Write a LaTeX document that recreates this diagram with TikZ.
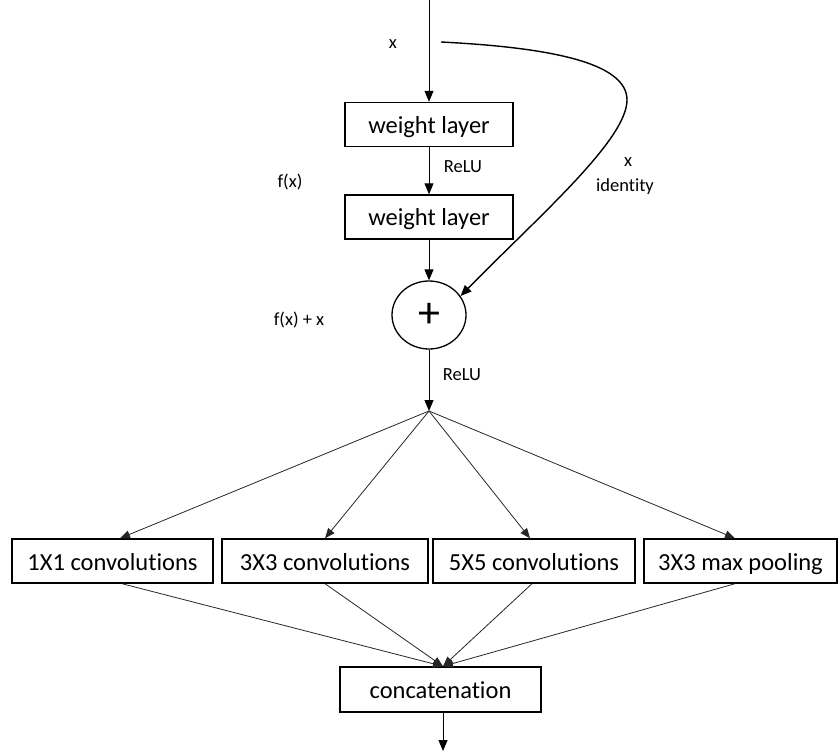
\documentclass[tikz,border=0pt]{standalone}
\usepackage{fontspec}
\setmainfont[Ligatures=NoCommon,RawFeature=-liga]{Carlito}
\usetikzlibrary{arrows.meta,shapes.geometric}
\begin{document}
\begin{tikzpicture}[x=1pt,y=-1pt,
  box/.style={draw,line width=1.4pt,minimum height=44pt,inner sep=0pt,text height=20pt,text depth=2pt,font=\fontsize{24.5}{28}\selectfont},
  lbl/.style={inner sep=0pt,font=\fontsize{18.5}{22}\selectfont},
  conn/.style={line width=1pt,-{Triangle[length=11pt,width=9pt]}},
  branch/.style={line width=0.8pt,black!85,-{Triangle[length=10pt,width=8pt]}}]
\useasboundingbox (0,0) rectangle (838,751);
% main column
\coordinate (in) at (429,0);
\node[box,minimum width=168pt] (wl1) at (429,124.5) {weight layer};
\node[box,minimum width=168pt] (wl2) at (429,217) {weight layer};
\node[ellipse,draw,line width=1.3pt,minimum width=74pt,minimum height=68pt,inner sep=0pt,font=\fontsize{44}{44}\selectfont] (plus) at (429,315) {+};
\coordinate (split) at (429,411);
% labels
\node[lbl] (lx) at (393,44) {x};
\node[lbl] (relu1) at (463,167) {ReLU};
\node[lbl] (fx) at (290,182) {f(x)};
\node[lbl] (ix) at (628,162) {x};
\node[lbl] (ident) at (625,187) {identity};
\node[lbl] (fxx) at (299,320) {f(x) + x};
\node[lbl] (relu2) at (462,375) {ReLU};
% connectors main
\draw[conn] (in) -- (wl1.north);
\draw[conn] (wl1.south) -- (wl2.north);
\draw[conn] (wl2.south) -- (plus.north);
\draw[conn] (plus.south) -- (split);
% skip connection
\coordinate (skip) at (441,42);
\coordinate (bend) at (627,100);
\draw[line width=1.4pt,-{Triangle[length=11pt,width=9pt]}] (skip) .. controls (560,48) and (627,65) .. (bend) .. controls (627,140) and (538,217) .. (plus.31);
% inception row
\node[box,minimum width=201pt] (b1) at (112.5,561) {1X1 convolutions};
\node[box,minimum width=206pt] (b2) at (325,561) {3X3 convolutions};
\node[box,minimum width=202pt] (b3) at (534,561) {5X5 convolutions};
\node[box,minimum width=193pt] (b4) at (740.5,561) {3X3 max pooling};
\node[box,minimum width=201pt,minimum height=45pt] (cat) at (440.5,689.5) {concatenation};
\coordinate (out) at (443,751);
\draw[branch] (split) -- ([xshift=7.5pt]b1.north);
\draw[branch] (split) -- (b2.north);
\draw[branch] (split) -- ([xshift=-4pt]b3.north);
\draw[branch] (split) -- ([xshift=-5.5pt]b4.north);
\draw[branch] ([xshift=9.5pt]b1.south) -- ([xshift=2.5pt]cat.north);
\draw[branch] (b2.south) -- ([xshift=2.5pt]cat.north);
\draw[branch] ([xshift=-2pt]b3.south) -- ([xshift=2.5pt]cat.north);
\draw[branch] ([xshift=-5.5pt]b4.south) -- ([xshift=2.5pt]cat.north);
\draw[conn] ([xshift=2.5pt]cat.south) -- (out);
\end{tikzpicture}
\end{document}
